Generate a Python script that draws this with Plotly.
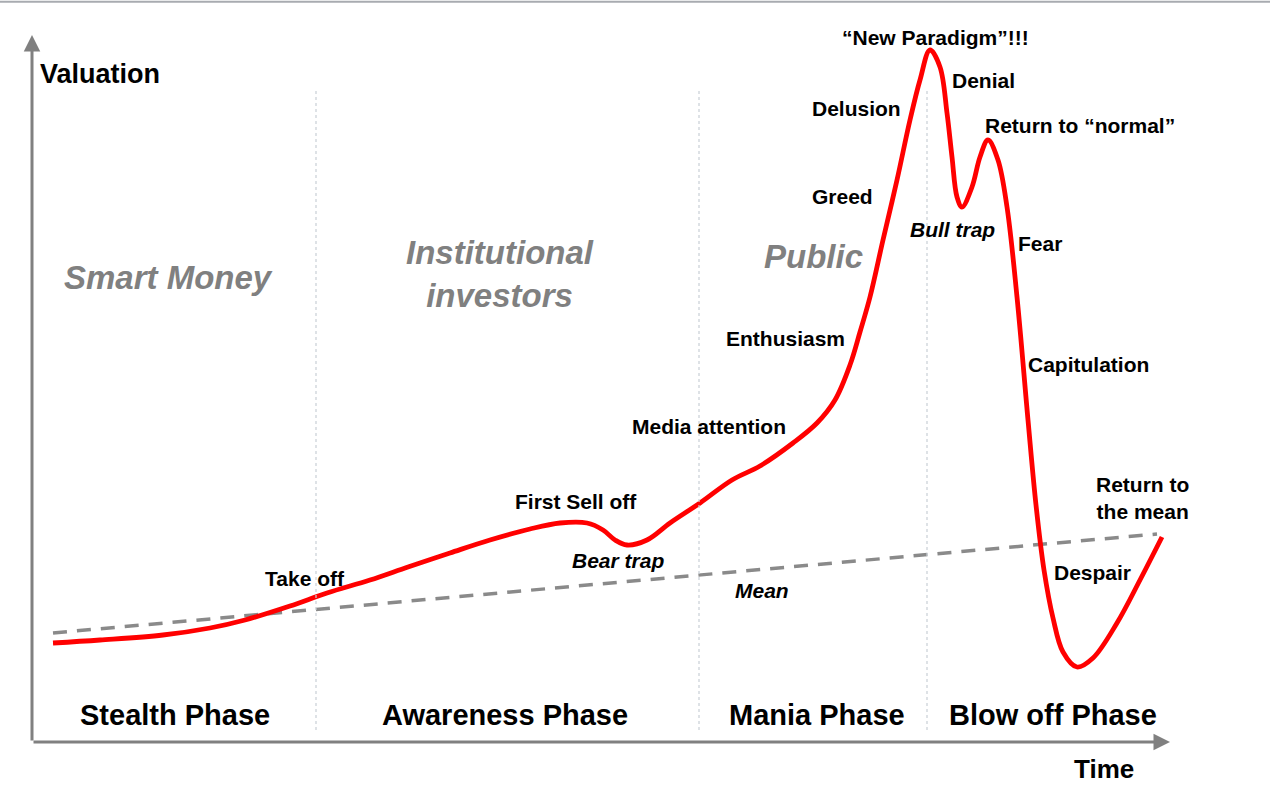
import plotly.graph_objects as go

# bubble curve, time vs valuation (arbitrary units)
time = [2.1, 6.8, 13.1, 17.8, 21.3, 25.8, 29.5, 33.8, 37.6, 41.8, 45.8, 49.8, 52.8, 55.5, 57.1,
        58.3, 59.5, 61.5, 63.8, 66.8, 70.0, 72.8, 76.1, 78.5, 80.3, 81.8, 82.8, 83.8, 85.1, 86.5,
        87.8, 88.8, 89.8, 90.8, 91.5, 92.0, 92.5, 93.0, 94.0, 94.8, 95.6, 96.6, 97.5, 98.5, 99.6,
        100.4, 101.2, 102.1, 103.1, 104.5, 106.1, 108.5, 110.8, 113.0]
valuation = [9.9, 10.2, 10.7, 11.4, 12.2, 13.6, 14.9, 16.2, 17.5, 18.9, 20.2, 21.3, 21.9, 21.9, 21.2,
             20.2, 19.7, 20.2, 21.9, 23.9, 26.2, 27.6, 29.9, 31.9, 34.2, 37.7, 41.0, 44.5, 50.2, 56.2,
             62.2, 66.2, 69.2, 67.5, 62.9, 58.5, 54.5, 53.5, 55.5, 58.5, 60.2, 58.2, 53.5, 44.5, 32.2,
             23.7, 17.2, 12.4, 9.0, 7.5, 8.4, 11.9, 16.2, 20.5]

mean_time = [2.1, 112.5]
mean_val = [10.9, 20.8]

phase_bounds = [28.4, 66.7, 89.5]
phase_names = ["Stealth Phase", "Awareness Phase", "Mania Phase", "Blow off Phase"]
phase_x = [14.3, 47.3, 78.5, 102.1]

crowd_names = ["Smart Money", "Institutional<br>investors", "Public"]
crowd_x = [13.6, 46.8, 78.1]
crowd_y = [46.5, 46.8, 48.6]

stage_names = ["Take off", "First Sell off", "Media attention", "Enthusiasm", "Greed", "Delusion",
               "“New Paradigm”!!!", "Denial", "Return to “normal”", "Fear", "Capitulation",
               "Despair", "Return to<br>the mean"]
stage_x = [27.3, 54.4, 67.7, 75.3, 81.0, 82.4, 90.3, 95.1, 104.8, 100.8, 105.6, 106.0, 111.0]
stage_y = [16.4, 24.1, 31.6, 40.4, 54.6, 63.4, 70.5, 66.2, 61.7, 49.9, 37.8, 17.0, 24.4]

trap_names = ["Bear trap", "Mean", "Bull trap"]
trap_x = [58.6, 73.0, 92.0]
trap_y = [18.2, 15.2, 51.3]

NARROW = "Liberation Sans Narrow, Arial Narrow, Liberation Sans"
WIDE = "Liberation Sans, Arial"

fig = go.Figure()

for b in phase_bounds:
    fig.add_shape(type="line", x0=b, x1=b, y0=1.2, y1=65.4,
                  line=dict(color="#c8cfd6", width=1.2, dash="dot"))

fig.add_trace(go.Scatter(x=mean_time, y=mean_val, mode="lines",
                         line=dict(color="#8a8a8a", width=3.5, dash="14px,10px"),
                         hoverinfo="skip"))
fig.add_trace(go.Scatter(x=time, y=valuation, mode="lines",
                         line=dict(color="#ff0000", width=4.8, shape="spline", smoothing=1.0),
                         hoverinfo="skip"))

# axes with arrows
fig.add_annotation(x=113.8, y=0, ax=0, ay=0, xref="x", yref="y", axref="x", ayref="y",
                   showarrow=True, arrowhead=2, arrowsize=1.1, arrowwidth=3, arrowcolor="#808080", text="")
fig.add_annotation(x=0, y=70.7, ax=0, ay=0, xref="x", yref="y", axref="x", ayref="y",
                   showarrow=True, arrowhead=2, arrowsize=1.1, arrowwidth=3, arrowcolor="#808080", text="")

fig.add_annotation(x=0.6, y=66.8, text="<b>Valuation</b>", showarrow=False, xanchor="left",
                   font=dict(family=NARROW, size=27, color="black"))
fig.add_annotation(x=107.2, y=-0.038, yref="paper", yanchor="middle", text="<b>Time</b>",
                   showarrow=False, font=dict(family=NARROW, size=26, color="black"))

for name, x in zip(phase_names, phase_x):
    fig.add_annotation(x=x, y=2.7, text="<b>" + name + "</b>", showarrow=False,
                       font=dict(family=WIDE, size=29, color="black"))

for name, x, y in zip(crowd_names, crowd_x, crowd_y):
    fig.add_annotation(x=x, y=y, text="<b><i>" + name + "</i></b>", showarrow=False,
                       font=dict(family=WIDE, size=33, color="#808080"))

for name, x, y in zip(stage_names, stage_x, stage_y):
    fig.add_annotation(x=x, y=y, text="<b>" + name + "</b>", showarrow=False,
                       font=dict(family=NARROW, size=21, color="black"))

for name, x, y in zip(trap_names, trap_x, trap_y):
    fig.add_annotation(x=x, y=y, text="<b><i>" + name + "</i></b>", showarrow=False,
                       font=dict(family=NARROW, size=21, color="black"))

# thin grey rule along the top edge
fig.add_shape(type="line", xref="paper", yref="paper", x0=-0.03, x1=1.1, y0=1.047, y1=1.047,
              line=dict(color="#a8abb0", width=2))

fig.update_xaxes(range=[0, 113.8], visible=False)
fig.update_yaxes(range=[0, 70.7], visible=False)
fig.update_layout(width=1270, height=792, margin=dict(l=32, r=100, t=35, b=50),
                  paper_bgcolor="white", plot_bgcolor="white", showlegend=False)

fig.write_html("out.html", config={"displayModeBar": False},
               post_script="document.body.style.margin='0';")
